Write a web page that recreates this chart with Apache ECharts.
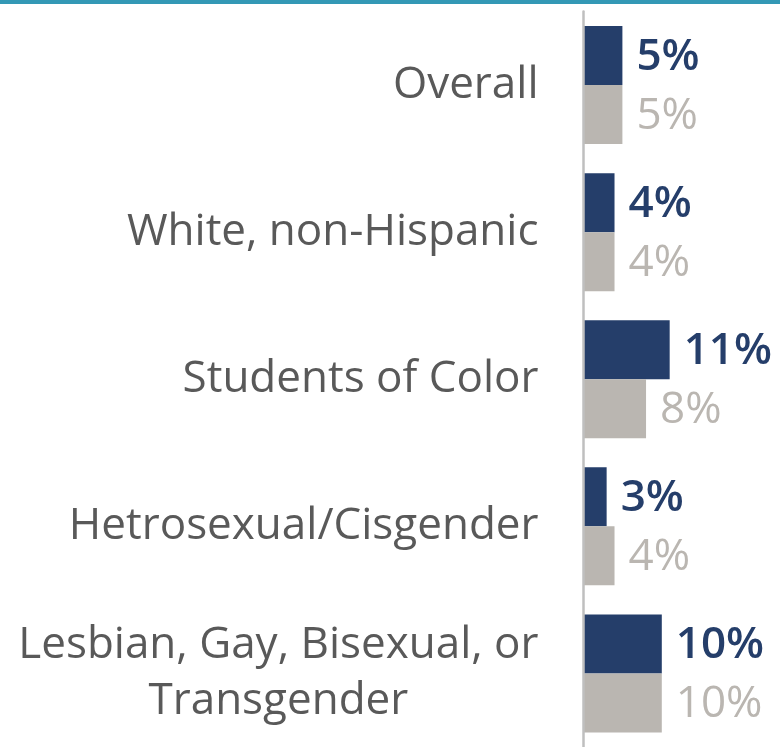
<!DOCTYPE html>
<html>
<head>
<meta charset="utf-8">
<script src="https://cdn.jsdelivr.net/npm/echarts@6/dist/echarts.min.js"></script>
<style>
html,body{margin:0;padding:0;background:#fff;}
#chart{width:780px;height:747px;}
</style>
</head>
<body>
<div id="chart"></div>
<script>
const categories = ['Overall', 'White, non-Hispanic', 'Students of Color', 'Hetrosexual/Cisgender', 'Lesbian, Gay, Bisexual, or\nTransgender'];
const seriesA = [5, 4, 11, 3, 10];
const seriesB = [5, 4, 8, 4, 10];

const NAVY = '#253E6A';
const GRAY = '#BAB6B1';
const FONT = 'Open Sans';

const chart = echarts.init(document.getElementById('chart'), null, {renderer: 'canvas'});
chart.setOption({
  animation: false,
  backgroundColor: '#ffffff',
  graphic: [{
    type: 'rect', left: 0, top: 0, z: 10,
    shape: {width: 780, height: 4},
    style: {fill: '#3398B5'}
  }],
  grid: {left: 583, top: 11.5, width: 200, height: 739.5, containLabel: false},
  xAxis: {
    type: 'value', min: 0, max: 25, show: false
  },
  yAxis: {
    type: 'category', data: categories, inverse: true, offset: 1.5, z: 5,
    axisLine: {show: true, lineStyle: {color: '#BFBFBF', width: 2.5}},
    axisTick: {show: false},
    splitLine: {show: false},
    axisLabel: {
      margin: 43,
      fontFamily: FONT,
      fontSize: 44,
      color: '#595959',
      formatter: v => v.split('\n').map(s => '{c|' + s + '}').join('\n'),
      rich: {c: {align: 'center', fontFamily: FONT, fontSize: 44, lineHeight: 56, color: '#595959'}}
    }
  },
  series: [{
    type: 'bar', data: seriesA, barWidth: 59, barGap: '0%',
    itemStyle: {color: NAVY},
    label: {show: true, position: 'right', distance: 14, offset: [0, 2], formatter: '{c}%',
      fontFamily: FONT, fontSize: 44, fontWeight: 600, color: NAVY}
  }, {
    type: 'bar', data: seriesB, barWidth: 59, barGap: '0%',
    itemStyle: {color: GRAY},
    label: {show: true, position: 'right', distance: 14, offset: [0, 2], formatter: '{c}%',
      fontFamily: FONT, fontSize: 44, fontWeight: 400, color: GRAY}
  }]
});
</script>
</body>
</html>
